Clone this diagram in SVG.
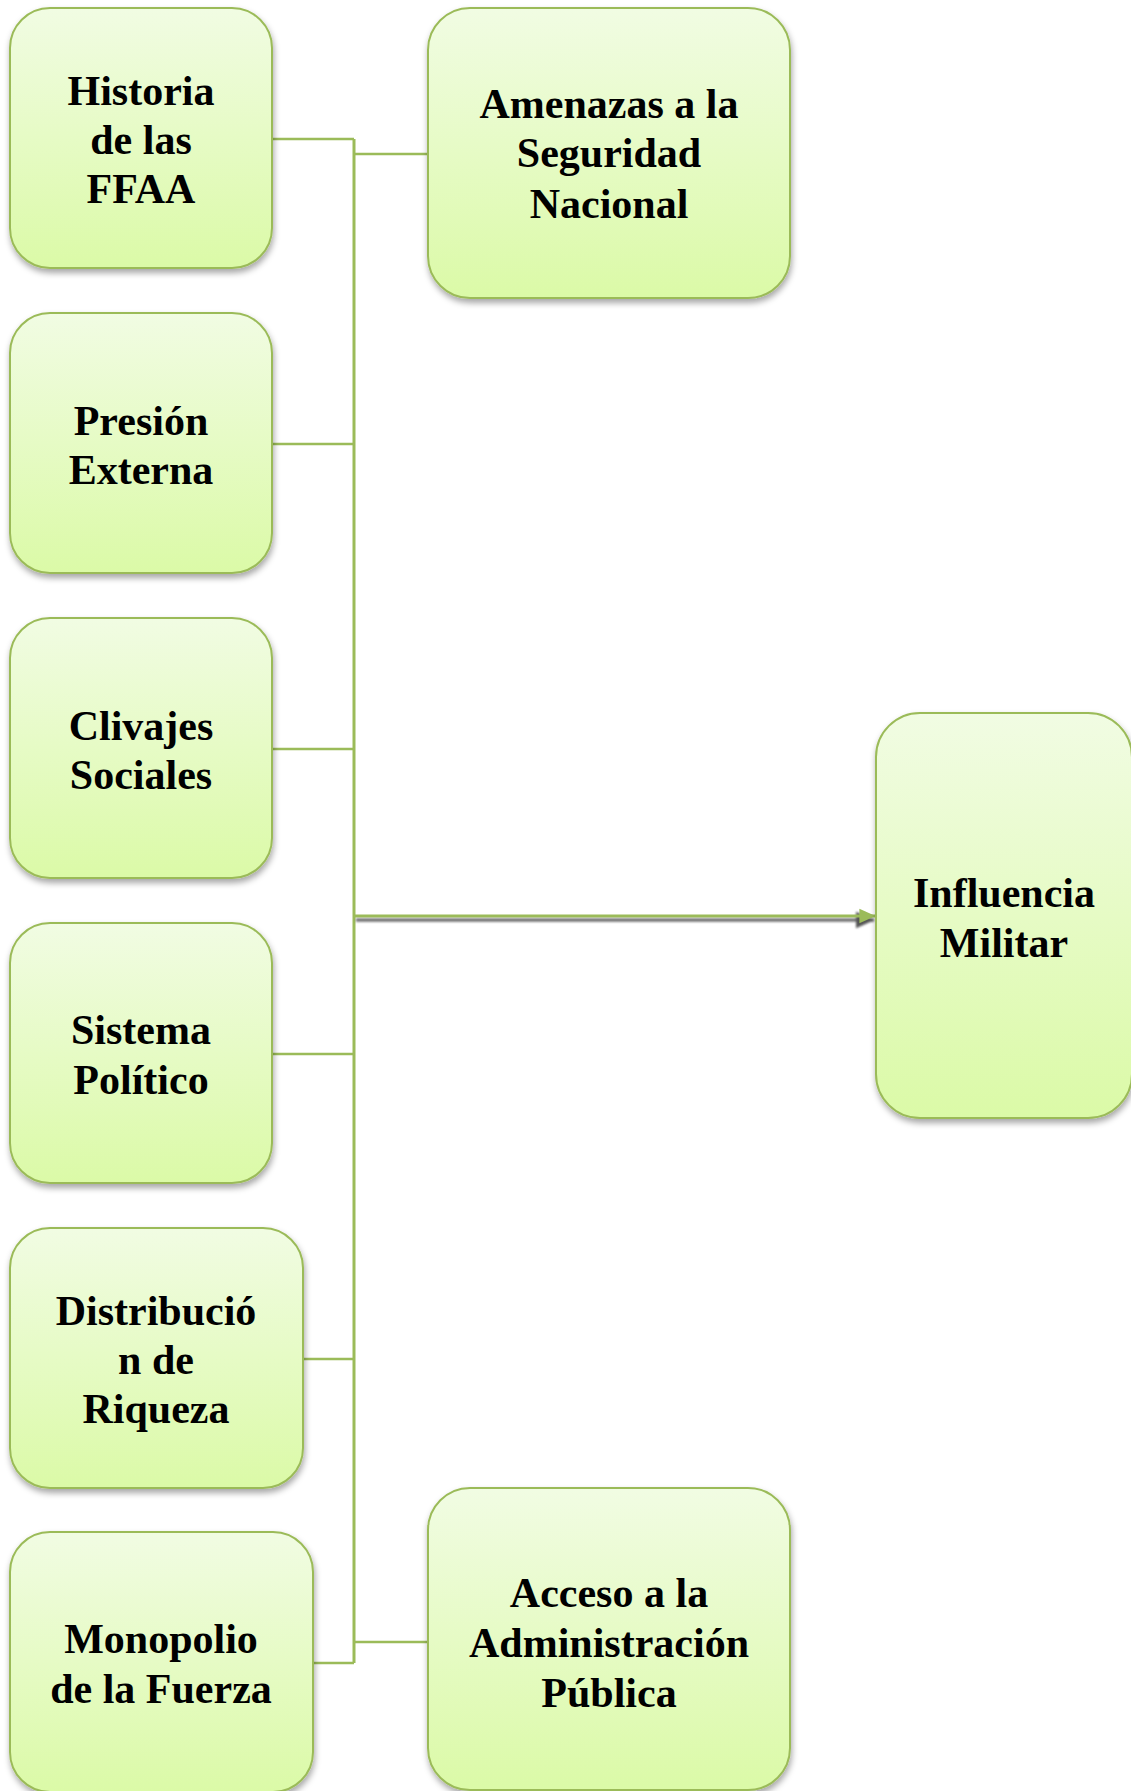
<svg xmlns="http://www.w3.org/2000/svg" width="1131" height="1791" viewBox="0 0 1131 1791">
  <defs>
    <linearGradient id="g" x1="0" y1="0" x2="0" y2="1">
      <stop offset="0" stop-color="#f1fce3"/>
      <stop offset="1" stop-color="#dbfaa7"/>
    </linearGradient>
    <filter id="sh" x="-10%" y="-10%" width="125%" height="125%">
      <feDropShadow dx="1" dy="4" stdDeviation="3" flood-color="#000" flood-opacity="0.35"/>
    </filter>
    <filter id="blur" filterUnits="userSpaceOnUse" x="340" y="900" width="560" height="40">
      <feGaussianBlur stdDeviation="1.3"/>
    </filter>
    <marker id="ah" markerWidth="6" markerHeight="6" refX="5.2" refY="3" orient="auto" markerUnits="strokeWidth">
      <path d="M0,0.6 L5.4,3 L0,5.4 Z" fill="#9bbb59"/>
    </marker>
    <marker id="ahs" markerWidth="6" markerHeight="6" refX="5.2" refY="3" orient="auto" markerUnits="strokeWidth">
      <path d="M0,0.6 L5.4,3 L0,5.4 Z" fill="#555"/>
    </marker>
    <style>
      .box { fill: url(#g); stroke: #9bbb59; stroke-width: 2; filter: url(#sh); }
      .t { font-family: "Liberation Serif", "Times New Roman", serif; font-weight: bold; font-size: 42px; fill: #000; text-anchor: middle; }
      .c { fill: none; stroke: #9bbb59; stroke-width: 2.5; }
    </style>
  </defs>

  <g id="connectors">
    <path class="c" d="M272,139 H354"/>
    <path class="c" d="M272,444 H354"/>
    <path class="c" d="M272,749 H354"/>
    <path class="c" d="M272,1054 H354"/>
    <path class="c" d="M303,1359 H354"/>
    <path class="c" d="M313,1663 H354"/>
    <path class="c" d="M354,139 V1663" style="stroke-width:3"/>
    <path class="c" d="M354,154 H428"/>
    <path class="c" d="M354,1642 H428"/>
    <path d="M356,920 H874" fill="none" stroke="#555" stroke-width="3.5" stroke-opacity="0.85" filter="url(#blur)" marker-end="url(#ahs)"/>
    <path class="c" d="M354,916 H875" style="stroke-width:3" marker-end="url(#ah)"/>
  </g>

  <g id="historia">
    <rect class="box" x="10" y="8" width="262" height="260" rx="40"/>
    <text class="t" x="141" y="105">Historia</text>
    <text class="t" x="141" y="154">de las</text>
    <text class="t" x="141" y="203">FFAA</text>
  </g>
  <g id="presion">
    <rect class="box" x="10" y="313" width="262" height="260" rx="40"/>
    <text class="t" x="141" y="435">Presión</text>
    <text class="t" x="141" y="484">Externa</text>
  </g>
  <g id="clivajes">
    <rect class="box" x="10" y="618" width="262" height="260" rx="40"/>
    <text class="t" x="141" y="740">Clivajes</text>
    <text class="t" x="141" y="789">Sociales</text>
  </g>
  <g id="sistema">
    <rect class="box" x="10" y="923" width="262" height="260" rx="40"/>
    <text class="t" x="141" y="1044">Sistema</text>
    <text class="t" x="141" y="1094">Político</text>
  </g>
  <g id="distribucion">
    <rect class="box" x="10" y="1228" width="293" height="260" rx="40"/>
    <text class="t" x="156" y="1325">Distribució</text>
    <text class="t" x="156" y="1374">n de</text>
    <text class="t" x="156" y="1423">Riqueza</text>
  </g>
  <g id="monopolio">
    <rect class="box" x="10" y="1532" width="303" height="260" rx="40"/>
    <text class="t" x="161" y="1653">Monopolio</text>
    <text class="t" x="161" y="1703">de la Fuerza</text>
  </g>
  <g id="amenazas">
    <rect class="box" x="428" y="8" width="362" height="290" rx="42"/>
    <text class="t" x="609" y="118">Amenazas a la</text>
    <text class="t" x="609" y="167">Seguridad</text>
    <text class="t" x="609" y="218">Nacional</text>
  </g>
  <g id="acceso">
    <rect class="box" x="428" y="1488" width="362" height="302" rx="42"/>
    <text class="t" x="609" y="1607">Acceso a la</text>
    <text class="t" x="609" y="1657">Administración</text>
    <text class="t" x="609" y="1707">Pública</text>
  </g>
  <g id="influencia">
    <rect class="box" x="876" y="713" width="256" height="405" rx="44"/>
    <text class="t" x="1004" y="907">Influencia</text>
    <text class="t" x="1004" y="957">Militar</text>
  </g>
</svg>
